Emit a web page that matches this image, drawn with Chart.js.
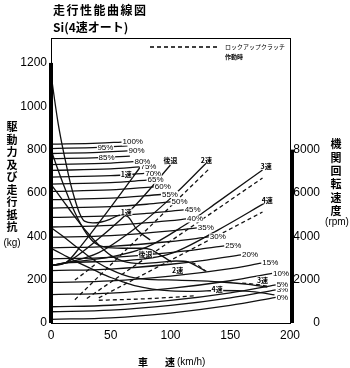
<!DOCTYPE html>
<html>
<head>
<meta charset="utf-8">
<script src="https://cdn.jsdelivr.net/npm/chart.js@4.4.1/dist/chart.umd.min.js"></script>
<style>
  html, body { margin: 0; padding: 0; background: #fff; }
</style>
</head>
<body>
<canvas id="perf-graph" width="350" height="368"></canvas>
<script>
// axis ticks
const speedTicks = [0, 50, 100, 150, 200];
const kgTicks = [0, 200, 400, 600, 800, 1000, 1200];
const rpmTicks = [0, 2000, 4000, 6000, 8000];

// running resistance per grade, [km/h, kg]
const gradeLabels = ["0%", "3%", "5%", "10%", "15%", "20%", "25%", "30%", "35%", "40%", "45%",
  "50%", "55%", "60%", "65%", "70%", "75%", "80%", "85%", "90%", "95%", "100%"];
const gradeCurves = [
  [[0, 17], [50, 24], [100, 46], [150, 81], [188, 118]],
  [[0, 52], [50, 59], [100, 81], [150, 116], [188, 153]],
  [[0, 75], [50, 82], [100, 104], [150, 139], [188, 176]],
  [[0, 131], [50, 138], [100, 160], [150, 195], [185, 229]],
  [[0, 187], [50, 194], [100, 216], [150, 251], [176, 276]],
  [[0, 242], [50, 249], [100, 271], [130, 290], [159, 314]],
  [[0, 296], [50, 303], [100, 325], [125, 341], [145, 356]],
  [[0, 347], [50, 354], [100, 376], [132, 397]],
  [[0, 396], [50, 403], [100, 425], [122, 439]],
  [[0, 443], [50, 450], [100, 472], [113, 480]],
  [[0, 487], [50, 494], [80, 506], [111, 522]],
  [[0, 530], [50, 537], [80, 548], [100, 559]],
  [[0, 569], [50, 576], [92, 593]],
  [[0, 607], [50, 614], [86, 628]],
  [[0, 641], [50, 648], [80, 659]],
  [[0, 673], [50, 680], [78, 690]],
  [[0, 704], [50, 711], [74, 720]],
  [[0, 731], [50, 738], [69, 745]],
  [[0, 758], [40, 763], [66, 770]],
  [[0, 782], [40, 787], [64, 794]],
  [[0, 805], [40, 810], [64, 817]],
  [[0, 825], [40, 830], [59, 835]]
];

// driving force per gear, [km/h, kg]
const drive1st = [[0, 1150], [3, 1030], [6, 920], [9, 830], [12, 750], [16, 650], [20, 570], [24, 505],
  [28, 470], [35, 462], [42, 466], [50, 480], [58, 498], [64, 492], [72, 430], [83, 383]];
const driveRev = [[0, 800], [5, 720], [10, 645], [15, 575], [20, 510], [25, 455], [30, 410], [36, 372],
  [45, 350], [60, 345], [75, 345], [83, 340], [92, 312], [101, 281]];
const drive2nd = [[0, 640], [10, 565], [20, 490], [30, 420], [40, 360], [50, 312], [60, 285], [75, 274],
  [90, 280], [105, 286], [115, 281], [122, 262], [130, 238]];
const drive3rd = [[0, 440], [10, 400], [20, 356], [30, 314], [40, 276], [50, 246], [60, 223], [70, 208],
  [85, 200], [105, 198], [125, 194], [145, 188], [165, 178], [181, 166]];
const drive4th = [[0, 345], [10, 316], [20, 287], [30, 260], [40, 234], [50, 210], [60, 190], [70, 172],
  [85, 156], [100, 148], [120, 146], [140, 150], [160, 148], [175, 140], [187, 130]];
// lock-up clutch engaged (dashed)
const drive2ndLU = [[112, 282], [118, 278], [124, 262], [129, 240]];
const drive3rdLU = [[20, 198], [30, 240], [38, 275]];
const drive3rdLUtop = [[160, 184], [172, 178], [181, 170]];
const drive4thLU = [[40, 105], [60, 108], [80, 112], [100, 118], [120, 125]];

// engine speed per gear, [km/h, rpm]
const rpm1st = [[0, 2650], [12, 2770], [25, 3550], [50, 5350], [76, 7290]];
const rpmRev = [[0, 2650], [12, 2770], [40, 3900], [70, 5400], [100, 7290]];
const rpm2nd = [[0, 2650], [12, 2770], [40, 3250], [70, 4350], [100, 5750], [130, 7380]];
const rpm3rd = [[0, 2650], [12, 2770], [50, 3050], [80, 3500], [110, 4450], [140, 5600], [177, 7060]];
const rpm4th = [[0, 2650], [12, 2770], [60, 2870], [100, 3200], [140, 4300], [179, 5540]];
const rpm2ndLU = [[20, 1075], [133, 7150]];
const rpm3rdLU = [[30, 1130], [177, 6690]];
const rpm4thLU = [[40, 1160], [177, 5120]];

const NUM = "'Liberation Sans Narrow', 'Liberation Sans', sans-serif";
const JP = "'Noto Sans CJK JP', sans-serif";

function toXY(pts) { return pts.map(([x, y]) => ({ x: x, y: y })); }

function line(pts, axis, dashed) {
  return {
    data: toXY(pts),
    yAxisID: axis,
    borderColor: "#111",
    borderWidth: 1.3,
    borderDash: dashed ? [4, 3] : [],
    pointRadius: 0,
    cubicInterpolationMode: "monotone",
    fill: false
  };
}

const datasets = [];
gradeCurves.forEach(p => datasets.push(line(p, "y", false)));
[drive1st, driveRev, drive2nd, drive3rd, drive4th].forEach(p => datasets.push(line(p, "y", false)));
[drive2ndLU, drive3rdLU, drive3rdLUtop, drive4thLU].forEach(p => datasets.push(line(p, "y", true)));
[rpm1st, rpmRev, rpm2nd, rpm3rd, rpm4th].forEach(p => datasets.push(line(p, "rpm", false)));
[rpm2ndLU, rpm3rdLU, rpm4thLU].forEach(p => datasets.push(line(p, "rpm", true)));

// where the gear names sit (km/h, kg)
const gearTags = [
  ["1速", 63, 688], ["後退", 100, 752], ["2速", 130, 752], ["3速", 180, 725], ["4速", 181, 568],
  ["1速", 63, 512], ["後退", 79, 318], ["2速", 106, 245], ["3速", 177, 198], ["4速", 139, 157]
];
// grade tags written inside the line instead of at its end
const midTags = { "95%": 38, "85%": 39 };

function valueAt(pts, v) {
  for (let i = 1; i < pts.length; i++) {
    if (v <= pts[i][0]) {
      const t = (v - pts[i - 1][0]) / (pts[i][0] - pts[i - 1][0]);
      return pts[i - 1][1] + t * (pts[i][1] - pts[i - 1][1]);
    }
  }
  return pts[pts.length - 1][1];
}

function tag(ctx, text, x, y, align) {
  const w = ctx.measureText(text).width;
  const left = align === "left" ? x : x - w / 2;
  ctx.fillStyle = "#fff";
  ctx.fillRect(left - 0.5, y - 3.5, w + 1, 7);
  ctx.fillStyle = "#000";
  ctx.textAlign = "left";
  ctx.fillText(text, left, y);
}

const decor = {
  id: "decor",
  afterDatasetsDraw(chart) {
    const { ctx, scales: { x, y } } = chart;
    ctx.save();
    ctx.textBaseline = "middle";
    ctx.font = "8px " + NUM;
    gradeCurves.forEach((pts, i) => {
      const name = gradeLabels[i];
      let sx, sy;
      if (midTags[name] !== undefined) {
        sx = midTags[name];
        sy = valueAt(pts, sx);
      } else {
        sx = pts[pts.length - 1][0];
        sy = pts[pts.length - 1][1];
      }
      tag(ctx, name, x.getPixelForValue(sx) + 1, y.getPixelForValue(sy), "left");
    });
    ctx.font = "bold 7px " + JP;
    gearTags.forEach(([t, sx, sy]) => tag(ctx, t, x.getPixelForValue(sx), y.getPixelForValue(sy), "center"));
    ctx.restore();
  },
  afterDraw(chart) {
    const { ctx, chartArea: a, scales: { x, y, rpm } } = chart;
    ctx.save();
    ctx.fillStyle = "#000";
    ctx.strokeStyle = "#000";
    // frame top
    ctx.lineWidth = 1;
    ctx.beginPath();
    ctx.moveTo(a.left, a.top + 0.5);
    ctx.lineTo(a.right, a.top + 0.5);
    ctx.stroke();
    // thick axis bars
    const y1200 = y.getPixelForValue(1200);
    ctx.fillRect(a.left - 2, y1200, 4, a.bottom - y1200);
    const y8000 = rpm.getPixelForValue(8000);
    ctx.fillRect(a.right, y8000, 4, a.bottom - y8000);

    // legend
    ctx.lineWidth = 1.3;
    ctx.setLineDash([4, 3]);
    ctx.beginPath();
    ctx.moveTo(150, 47);
    ctx.lineTo(220, 47);
    ctx.stroke();
    ctx.setLineDash([]);
    ctx.textBaseline = "middle";
    ctx.textAlign = "left";
    ctx.font = "6px " + JP;
    ctx.fillText("ロックアップクラッチ", 225, 47);
    ctx.font = "bold 6px " + JP;
    ctx.fillText("作動時", 225, 57);

    // titles
    ctx.font = "bold 12px " + JP;
    Array.from("走行性能曲線図").forEach((c, i) => ctx.fillText(c, 53 + i * 13.5, 10));
    ctx.fillText("Si(4速オート)", 53, 27);

    // vertical axis titles
    ctx.textAlign = "center";
    ctx.font = "bold 11px " + JP;
    Array.from("駆動力及び走行抵抗").forEach((c, i) => ctx.fillText(c, 12, 127 + i * 12.5));
    Array.from("機関回転速度").forEach((c, i) => ctx.fillText(c, 336, 144 + i * 13.4));
    ctx.font = "10px " + NUM;
    ctx.fillText("(kg)", 12, 243);
    ctx.fillText("(rpm)", 337, 222);

    // x title
    ctx.font = "bold 10px " + JP;
    ctx.fillText("車", 143, 362);
    ctx.fillText("速", 170, 362);
    ctx.textAlign = "left";
    ctx.font = "10px " + NUM;
    ctx.fillText("(km/h)", 177, 362);
    ctx.restore();
  }
};

const tickFont = { family: NUM, size: 12 };
const plain = v => String(v);

new Chart(document.getElementById("perf-graph"), {
  type: "line",
  data: { datasets: datasets },
  options: {
    responsive: false,
    animation: false,
    layout: { padding: { left: 0, right: 30, top: 38, bottom: 0 } },
    plugins: { legend: { display: false }, tooltip: { enabled: false } },
    scales: {
      x: {
        type: "linear",
        min: 0,
        max: 200,
        afterBuildTicks: s => { s.ticks = speedTicks.map(v => ({ value: v })); },
        afterFit: s => { s.height = 45; },
        ticks: { color: "#000", font: tickFont, padding: 5, maxRotation: 0, callback: plain },
        grid: { display: false, drawTicks: false },
        border: { color: "#000", width: 1 }
      },
      y: {
        position: "left",
        min: 0,
        max: 1315,
        afterBuildTicks: s => { s.ticks = kgTicks.map(v => ({ value: v })); },
        afterFit: s => { s.width = 51; },
        ticks: { color: "#000", font: tickFont, padding: 4, callback: plain },
        grid: { display: false, drawTicks: false },
        border: { color: "#000", width: 1 }
      },
      rpm: {
        position: "right",
        min: 0,
        max: 13150,
        afterBuildTicks: s => { s.ticks = rpmTicks.map(v => ({ value: v })); },
        afterFit: s => { s.width = 30; },
        ticks: { color: "#000", font: tickFont, padding: 4, crossAlign: "far", callback: plain },
        grid: { display: false, drawTicks: false },
        border: { color: "#000", width: 1 }
      }
    }
  },
  plugins: [decor]
});
</script>
</body>
</html>
